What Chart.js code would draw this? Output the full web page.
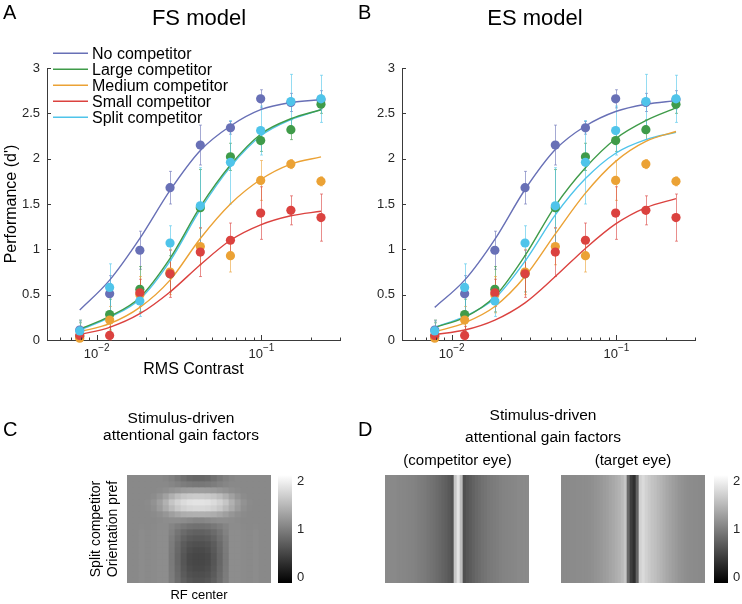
<!DOCTYPE html>
<html>
<head>
<meta charset="utf-8">
<script src="https://cdn.jsdelivr.net/npm/chart.js@4.4.1/dist/chart.umd.min.js"></script>
<style>
  html, body { margin: 0; padding: 0; background: #fff; }
  #fig { position: relative; width: 742px; height: 604px; overflow: hidden;
         font-family: Helvetica, "Liberation Sans", Arial, sans-serif; color: #000; }
  #fig canvas { position: absolute; left: 0; top: 0; }
  .t { position: absolute; white-space: nowrap; line-height: 1; }
  .c { transform: translateX(-50%); }
</style>
</head>
<body>
<div id="fig">
  <canvas id="cHeatC" width="742" height="604"></canvas>
  <canvas id="cBarC"  width="742" height="604"></canvas>
  <canvas id="cHeatD1" width="742" height="604"></canvas>
  <canvas id="cHeatD2" width="742" height="604"></canvas>
  <canvas id="cBarD"  width="742" height="604"></canvas>
  <canvas id="cA" width="742" height="604"></canvas>
  <canvas id="cB" width="742" height="604"></canvas>

  <div class="t" style="left:3px;top:2.4px;font-size:20px">A</div>
  <div class="t" style="left:358px;top:2.4px;font-size:20px">B</div>
  <div class="t c" style="left:199px;top:7.4px;font-size:22px">FS model</div>
  <div class="t c" style="left:535px;top:7.4px;font-size:22px">ES model</div>

  <div class="t" style="left:3px;top:419px;font-size:20px">C</div>
  <div class="t" style="left:358px;top:419px;font-size:20px">D</div>
  <div class="t c" style="left:181px;top:409.9px;font-size:15.5px">Stimulus-driven</div>
  <div class="t c" style="left:181px;top:427.4px;font-size:15.5px">attentional gain factors</div>
  <div class="t c" style="left:543px;top:407.4px;font-size:15.5px">Stimulus-driven</div>
  <div class="t c" style="left:543px;top:428.9px;font-size:15.5px">attentional gain factors</div>
  <div class="t c" style="left:457.5px;top:452.3px;font-size:15px">(competitor eye)</div>
  <div class="t c" style="left:633px;top:452.3px;font-size:15px">(target eye)</div>
</div>

<script>
// ── Datos: contraste y series ─────────────────────────────────
const contrast = [0.0079, 0.0120, 0.0183, 0.0279, 0.0426, 0.0649, 0.0990, 0.151, 0.230];
const seriesNames  = ['No competitor', 'Large competitor', 'Medium competitor', 'Small competitor', 'Split competitor'];
const seriesColors = ['#6870b6', '#3f9b49', '#eba235', '#db423f', '#4fc4ea'];

// observed d' (same points in both panels)
const obsNone   = [0.11, 0.51, 0.99, 1.68, 2.15, 2.34, 2.66, 2.62, 2.65];
const obsLarge  = [0.04, 0.28, 0.56, 0.73, 1.46, 2.02, 2.20, 2.32, 2.60];
const obsMedium = [0.02, 0.22, 0.50, 0.75, 1.03, 0.93, 1.76, 1.94, 1.75];
const obsSmall  = [0.05, 0.05, 0.52, 0.73, 0.97, 1.10, 1.40, 1.43, 1.35];
const obsSplit  = [0.10, 0.58, 0.43, 1.07, 1.48, 1.96, 2.31, 2.63, 2.66];

// error bar half widths
const errNone   = [0.10, 0.20, 0.21, 0.18, 0.22, 0.07, 0.10, 0.10, 0.10];
const errLarge  = [0.15, 0.17, 0.25, 0.20, 0.42, 0.15, 0.12, 0.11, 0.10];
const errMedium = [0.20, 0.15, 0.20, 0.25, 0.20, 0.18, 0.22, 0.05, 0.05];
const errSmall  = [0.10, 0.10, 0.15, 0.26, 0.27, 0.19, 0.29, 0.16, 0.26];
const errSplit  = [0.12, 0.26, 0.17, 0.19, 0.42, 0.46, 0.27, 0.30, 0.26];

// model fits, FS model (panel A)
const fsNone   = [0.33, 0.66, 1.12, 1.65, 2.09, 2.36, 2.54, 2.62, 2.65];
const fsLarge  = [0.12, 0.26, 0.47, 0.90, 1.47, 1.93, 2.27, 2.44, 2.54];
const fsMedium = [0.09, 0.18, 0.36, 0.66, 1.12, 1.50, 1.77, 1.94, 2.02];
const fsSmall  = [0.06, 0.14, 0.29, 0.53, 0.83, 1.10, 1.27, 1.37, 1.42];
const fsSplit  = [0.11, 0.25, 0.45, 0.87, 1.44, 1.91, 2.25, 2.43, 2.54];

// model fits, ES model (panel B)
const esNone   = [0.36, 0.66, 1.11, 1.66, 2.10, 2.36, 2.52, 2.60, 2.64];
const esLarge  = [0.14, 0.25, 0.48, 0.93, 1.48, 1.90, 2.22, 2.42, 2.56];
const esMedium = [0.09, 0.19, 0.37, 0.70, 1.17, 1.62, 1.97, 2.19, 2.30];
const esSmall  = [0.06, 0.11, 0.22, 0.41, 0.70, 1.01, 1.28, 1.46, 1.56];
const esSplit  = [0.14, 0.26, 0.46, 0.87, 1.38, 1.78, 2.06, 2.21, 2.29];

// axis ticks
const yTickVals   = [0, 0.5, 1, 1.5, 2, 2.5, 3];
const xMajorTicks = [0.01, 0.1];
const xMinorTicks = [0.005, 0.006, 0.007, 0.008, 0.009, 0.02, 0.03, 0.04, 0.05, 0.06, 0.07, 0.08, 0.09, 0.2, 0.3];
const xMin = 0.005, xMax = 0.3;

// ── Datos: mapas de ganancia ──────────────────────────────────
// panel C, 18 rows (top -> bottom) x 24 columns
const heatC = [
  [1.08,1.08,1.08,1.08,1.08,1.08,1.06,1.01,0.94,0.87,0.81,0.78,0.78,0.81,0.87,0.94,1.01,1.06,1.08,1.08,1.08,1.08,1.08,1.08],
  [1.08,1.08,1.08,1.08,1.08,1.08,1.08,1.06,1.02,0.98,0.95,0.93,0.93,0.95,0.98,1.02,1.06,1.08,1.08,1.08,1.08,1.08,1.08,1.08],
  [1.08,1.08,1.08,1.08,1.08,1.10,1.13,1.17,1.21,1.24,1.26,1.27,1.27,1.26,1.24,1.21,1.17,1.13,1.10,1.08,1.08,1.08,1.08,1.08],
  [1.08,1.08,1.08,1.08,1.11,1.18,1.30,1.43,1.54,1.61,1.65,1.67,1.67,1.65,1.61,1.54,1.43,1.30,1.18,1.11,1.08,1.08,1.08,1.08],
  [1.08,1.08,1.08,1.10,1.16,1.28,1.44,1.61,1.73,1.81,1.86,1.88,1.88,1.86,1.81,1.73,1.61,1.44,1.28,1.16,1.10,1.08,1.08,1.08],
  [1.08,1.08,1.08,1.09,1.14,1.24,1.38,1.52,1.64,1.72,1.76,1.78,1.78,1.76,1.72,1.64,1.52,1.38,1.24,1.14,1.09,1.08,1.08,1.08],
  [1.08,1.08,1.08,1.08,1.10,1.14,1.20,1.28,1.35,1.40,1.42,1.43,1.43,1.42,1.40,1.35,1.28,1.20,1.14,1.10,1.08,1.08,1.08,1.08],
  [1.08,1.08,1.08,1.08,1.08,1.10,1.12,1.13,1.13,1.11,1.08,1.06,1.06,1.08,1.11,1.13,1.13,1.12,1.10,1.08,1.08,1.08,1.08,1.08],
  [1.08,1.08,1.09,1.08,1.09,1.11,1.11,1.05,0.99,0.93,0.89,0.87,0.87,0.89,0.93,0.99,1.05,1.11,1.11,1.09,1.08,1.09,1.08,1.08],
  [1.08,1.08,1.11,1.09,1.10,1.12,1.12,1.02,0.91,0.82,0.76,0.73,0.73,0.76,0.82,0.91,1.02,1.12,1.12,1.10,1.09,1.11,1.08,1.08],
  [1.08,1.08,1.11,1.09,1.10,1.12,1.12,0.99,0.86,0.75,0.68,0.65,0.65,0.68,0.75,0.86,0.99,1.12,1.12,1.10,1.09,1.11,1.08,1.08],
  [1.08,1.08,1.11,1.09,1.10,1.12,1.12,0.97,0.82,0.69,0.61,0.58,0.58,0.61,0.69,0.82,0.97,1.12,1.12,1.10,1.09,1.11,1.08,1.08],
  [1.08,1.08,1.11,1.09,1.10,1.12,1.12,0.96,0.80,0.66,0.56,0.53,0.53,0.56,0.66,0.80,0.96,1.12,1.12,1.10,1.09,1.11,1.08,1.08],
  [1.08,1.08,1.11,1.09,1.10,1.12,1.12,0.95,0.78,0.63,0.53,0.50,0.50,0.53,0.63,0.78,0.95,1.12,1.12,1.10,1.09,1.11,1.08,1.08],
  [1.08,1.08,1.11,1.09,1.10,1.12,1.12,0.95,0.78,0.63,0.53,0.50,0.50,0.53,0.63,0.78,0.95,1.12,1.12,1.10,1.09,1.11,1.08,1.08],
  [1.08,1.08,1.11,1.09,1.10,1.12,1.12,0.96,0.80,0.65,0.55,0.52,0.52,0.55,0.65,0.80,0.96,1.12,1.12,1.10,1.09,1.11,1.08,1.08],
  [1.08,1.08,1.11,1.09,1.10,1.12,1.12,0.97,0.82,0.68,0.59,0.56,0.56,0.59,0.68,0.82,0.97,1.12,1.12,1.10,1.09,1.11,1.08,1.08],
  [1.08,1.08,1.11,1.09,1.10,1.12,1.12,0.98,0.84,0.71,0.63,0.60,0.60,0.63,0.71,0.84,0.98,1.12,1.12,1.10,1.09,1.11,1.08,1.08],
];

// panel D, one value per column (48 columns)
const heatDComp = [1.09,1.09,1.08,1.08,1.07,1.07,1.06,1.05,1.04,1.03,1.01,0.99,0.97,0.95,0.92,0.89,
                   0.86,0.83,0.79,0.75,0.71,0.66,0.60,1.62,1.88,1.55,0.58,0.64,0.69,0.74,0.79,0.83,
                   0.87,0.90,0.93,0.95,0.97,0.99,1.01,1.03,1.04,1.05,1.06,1.07,1.08,1.08,1.09,1.09];
const heatDTarg = [1.09,1.09,1.09,1.10,1.10,1.11,1.11,1.12,1.12,1.13,1.15,1.17,1.19,1.22,1.25,1.28,
                   1.32,1.36,1.40,1.45,1.52,1.62,0.80,0.42,0.30,0.75,1.72,1.80,1.72,1.66,1.60,1.56,
                   1.51,1.46,1.41,1.36,1.31,1.27,1.23,1.19,1.16,1.14,1.12,1.11,1.10,1.10,1.09,1.09];

// colour bar
const cbarMin = -0.126, cbarMax = 2.126;
const cbarTicks = [0, 1, 2];

// ── Chart.js defaults ─────────────────────────────────────────
Chart.defaults.font.family = 'Helvetica, "Liberation Sans", Arial, sans-serif';
Chart.defaults.color = '#262626';
Chart.defaults.animation = false;
Chart.defaults.plugins.legend.display = false;
Chart.defaults.plugins.tooltip.enabled = false;
const AXIS_COLOR = '#3a3a3a';

// ── Helpers ───────────────────────────────────────────────────
function grayOf(v) {
  const t = Math.max(0, Math.min(1, (v - cbarMin) / (cbarMax - cbarMin)));
  const g = Math.round(t * 255);
  return `rgb(${g},${g},${g})`;
}
function toXY(ys) { return ys.map((y, i) => ({ x: contrast[i], y })); }
function hexA(hex, a) {
  const n = parseInt(hex.slice(1), 16);
  return `rgba(${n >> 16},${(n >> 8) & 255},${n & 255},${a})`;
}

// MATLAB-like inward ticks + 10^n labels
const matlabAxes = {
  id: 'matlabAxes',
  afterDraw(chart, args, opts) {
    const { ctx, chartArea: a, scales: { x, y } } = chart;
    ctx.save();
    ctx.strokeStyle = AXIS_COLOR;
    ctx.lineWidth = 1;
    ctx.beginPath();
    opts.yTicks.forEach(v => {
      const py = Math.round(y.getPixelForValue(v)) + 0.5;
      ctx.moveTo(a.left, py); ctx.lineTo(a.left + 4, py);
    });
    opts.xMajor.forEach(v => {
      const px = Math.round(x.getPixelForValue(v)) + 0.5;
      ctx.moveTo(px, a.bottom); ctx.lineTo(px, a.bottom - 5);
    });
    opts.xMinor.forEach(v => {
      const px = Math.round(x.getPixelForValue(v)) + 0.5;
      ctx.moveTo(px, a.bottom); ctx.lineTo(px, a.bottom - 2.5);
    });
    ctx.stroke();

    ctx.fillStyle = '#262626';
    ctx.textBaseline = 'alphabetic';
    ctx.textAlign = 'left';
    opts.xMajor.forEach(v => {
      const exp = '\u2212' + Math.round(-Math.log10(v));
      ctx.font = '13px ' + Chart.defaults.font.family;
      const w1 = ctx.measureText('10').width;
      ctx.font = '10px ' + Chart.defaults.font.family;
      const w2 = ctx.measureText(exp).width;
      const x0 = x.getPixelForValue(v) - (w1 + w2) / 2;
      ctx.font = '13px ' + Chart.defaults.font.family;
      ctx.fillText('10', x0, a.bottom + 18);
      ctx.font = '10px ' + Chart.defaults.font.family;
      ctx.fillText(exp, x0 + w1, a.bottom + 11);
    });
    ctx.restore();
  }
};

// Error bars under the markers
const errorBars = {
  id: 'errorBars',
  beforeDatasetsDraw(chart, args, opts) {
    const { ctx, scales: { x, y } } = chart;
    ctx.save();
    ctx.lineWidth = 1;
    opts.bars.forEach(b => {
      ctx.strokeStyle = hexA(b.color, 0.6);
      ctx.beginPath();
      b.y.forEach((v, i) => {
        const px = Math.round(x.getPixelForValue(contrast[i])) + 0.5;
        const top = y.getPixelForValue(v + b.e[i]);
        const bot = y.getPixelForValue(Math.max(0, v - b.e[i]));
        ctx.moveTo(px, top); ctx.lineTo(px, bot);
        ctx.moveTo(px - 1.5, top); ctx.lineTo(px + 1.5, top);
        ctx.moveTo(px - 1.5, bot); ctx.lineTo(px + 1.5, bot);
      });
      ctx.stroke();
    });
    ctx.restore();
  }
};

// Line legend inside panel A
const lineLegend = {
  id: 'lineLegend',
  afterDraw(chart, args, opts) {
    if (!opts.items) return;
    const { ctx, chartArea: a } = chart;
    ctx.save();
    ctx.font = '16px ' + Chart.defaults.font.family;
    ctx.textBaseline = 'middle';
    ctx.textAlign = 'left';
    opts.items.forEach((it, i) => {
      const yy = a.top - 14.7 + 16 * i;
      ctx.strokeStyle = it.color;
      ctx.lineWidth = 1.4;
      ctx.beginPath();
      ctx.moveTo(a.left + 6, yy); ctx.lineTo(a.left + 41, yy);
      ctx.stroke();
      ctx.fillStyle = '#000';
      ctx.fillText(it.label, a.left + 45, yy + 1);
    });
    ctx.restore();
  }
};

// ── Performance panels ────────────────────────────────────────
function buildPerfChart(id, fits, padLeft, yWidth, withTitles, withLegend) {
  const obs  = [obsNone, obsLarge, obsMedium, obsSmall, obsSplit];
  const errs = [errNone, errLarge, errMedium, errSmall, errSplit];

  const curveSets = fits.map((f, i) => ({
    label: seriesNames[i],
    data: toXY(f),
    showLine: true,
    borderColor: seriesColors[i],
    borderWidth: 1.4,
    pointRadius: 0,
    cubicInterpolationMode: 'monotone',
    clip: false,
    order: 10,
  }));
  const pointSets = obs.map((o, i) => ({
    label: seriesNames[i] + ' data',
    data: toXY(o),
    showLine: false,
    pointRadius: 4.6,
    pointBorderWidth: 0,
    pointBackgroundColor: seriesColors[i],
    clip: false,
    order: 5 - i,
  }));

  return new Chart(document.getElementById(id), {
    type: 'scatter',
    data: { datasets: [...curveSets, ...pointSets] },
    plugins: [errorBars, matlabAxes, lineLegend],
    options: {
      responsive: false,
      layout: { padding: { left: padLeft, top: 68, right: 742 - (padLeft + yWidth + 293), bottom: 219 } },
      plugins: {
        errorBars: { bars: obs.map((o, i) => ({ y: o, e: errs[i], color: seriesColors[i] })) },
        matlabAxes: { yTicks: yTickVals, xMajor: xMajorTicks, xMinor: xMinorTicks },
        lineLegend: withLegend ? { items: seriesNames.map((l, i) => ({ label: l, color: seriesColors[i] })) } : {},
      },
      scales: {
        x: {
          type: 'logarithmic',
          min: xMin, max: xMax,
          ticks: { display: false },
          grid: { display: false, drawTicks: false },
          border: { display: true, color: AXIS_COLOR, width: 1 },
          title: { display: withTitles, text: 'RMS Contrast', color: '#000',
                   font: { size: 16 }, padding: { top: 0, bottom: 6 } },
          afterFit: s => { s.height = 45; },
        },
        y: {
          min: 0, max: 3,
          afterBuildTicks: s => { s.ticks = yTickVals.map(v => ({ value: v })); },
          ticks: { font: { size: 13 }, color: '#262626', padding: 7, callback: v => String(v) },
          grid: { display: false, drawTicks: false },
          border: { display: true, color: AXIS_COLOR, width: 1 },
          title: { display: withTitles, text: "Performance (d')", color: '#000',
                   font: { size: 16 }, padding: { top: 2, bottom: 0 } },
          afterFit: s => { s.width = yWidth; },
        },
      },
    },
  });
}

buildPerfChart('cA', [fsNone, fsLarge, fsMedium, fsSmall, fsSplit], 0, 47, true, true);
buildPerfChart('cB', [esNone, esLarge, esMedium, esSmall, esSplit], 370, 32, false, false);

// ── Gain factor maps ──────────────────────────────────────────
const hidden = {
  display: false,
  grid: { display: false, drawTicks: false },
  border: { display: false },
};

// panel C heat map: stacked unit bars, one dataset per row
new Chart(document.getElementById('cHeatC'), {
  type: 'bar',
  data: {
    labels: heatC[0].map((_, i) => i + 1),
    datasets: heatC.map(row => ({
      data: row.map(() => 1),
      backgroundColor: row.map(grayOf),
      borderWidth: 0,
      categoryPercentage: 1,
      barPercentage: 1,
    })),
  },
  options: {
    responsive: false,
    layout: { padding: { left: 86, top: 475, right: 471, bottom: 0 } },
    scales: {
      x: {
        stacked: true,
        ticks: { display: false },
        grid: { display: false, drawTicks: false },
        border: { display: false },
        title: { display: true, text: 'RF center', color: '#000', font: { size: 13 }, padding: { top: 0, bottom: 1 } },
        afterFit: s => { s.height = 21; },
      },
      y: {
        stacked: true, reverse: true, min: 0, max: heatC.length,
        ticks: { display: false },
        grid: { display: false, drawTicks: false },
        border: { display: false },
        title: { display: true, text: ['Split competitor', 'Orientation pref'], color: '#000',
                 font: { size: 14 }, padding: { top: 2, bottom: 0 } },
        afterFit: s => { s.width = 41; },
      },
    },
  },
});

// panel D heat maps: one full-height bar per column
function buildStripes(id, values, left) {
  return new Chart(document.getElementById(id), {
    type: 'bar',
    data: {
      labels: values.map((_, i) => i + 1),
      datasets: [{
        data: values.map(() => 1),
        backgroundColor: values.map(grayOf),
        borderWidth: 0,
        categoryPercentage: 1,
        barPercentage: 1,
      }],
    },
    options: {
      responsive: false,
      layout: { padding: { left, top: 475, right: 742 - left - 144, bottom: 21 } },
      scales: { x: hidden, y: { ...hidden, min: 0, max: 1 } },
    },
  });
}
buildStripes('cHeatD1', heatDComp, 385);
buildStripes('cHeatD2', heatDTarg, 561);

// colour bars
function buildColorbar(id, left, width, axisW) {
  return new Chart(document.getElementById(id), {
    type: 'bar',
    data: {
      labels: ['cbar'],
      datasets: [{
        data: [[cbarMin, cbarMax]],
        backgroundColor: c => {
          const chart = c.chart;
          if (!chart.chartArea) return '#888';
          const ys = chart.scales.y;
          const g = chart.ctx.createLinearGradient(0, ys.getPixelForValue(cbarMin), 0, ys.getPixelForValue(cbarMax));
          g.addColorStop(0, '#000');
          g.addColorStop(1, '#fff');
          return g;
        },
        borderWidth: 0,
        categoryPercentage: 1,
        barPercentage: 1,
      }],
    },
    options: {
      responsive: false,
      layout: { padding: { left, top: 475, right: 742 - left - width - axisW, bottom: 21 } },
      scales: {
        x: hidden,
        y: {
          position: 'right',
          min: cbarMin, max: cbarMax,
          afterBuildTicks: s => { s.ticks = cbarTicks.map(v => ({ value: v })); },
          ticks: { font: { size: 13 }, color: '#262626', padding: 5 },
          grid: { display: false, drawTicks: false },
          border: { display: false },
          afterFit: s => { s.width = axisW; },
        },
      },
    },
  });
}
buildColorbar('cBarC', 278, 14, 20);
buildColorbar('cBarD', 714, 14, 14);
</script>
</body>
</html>
